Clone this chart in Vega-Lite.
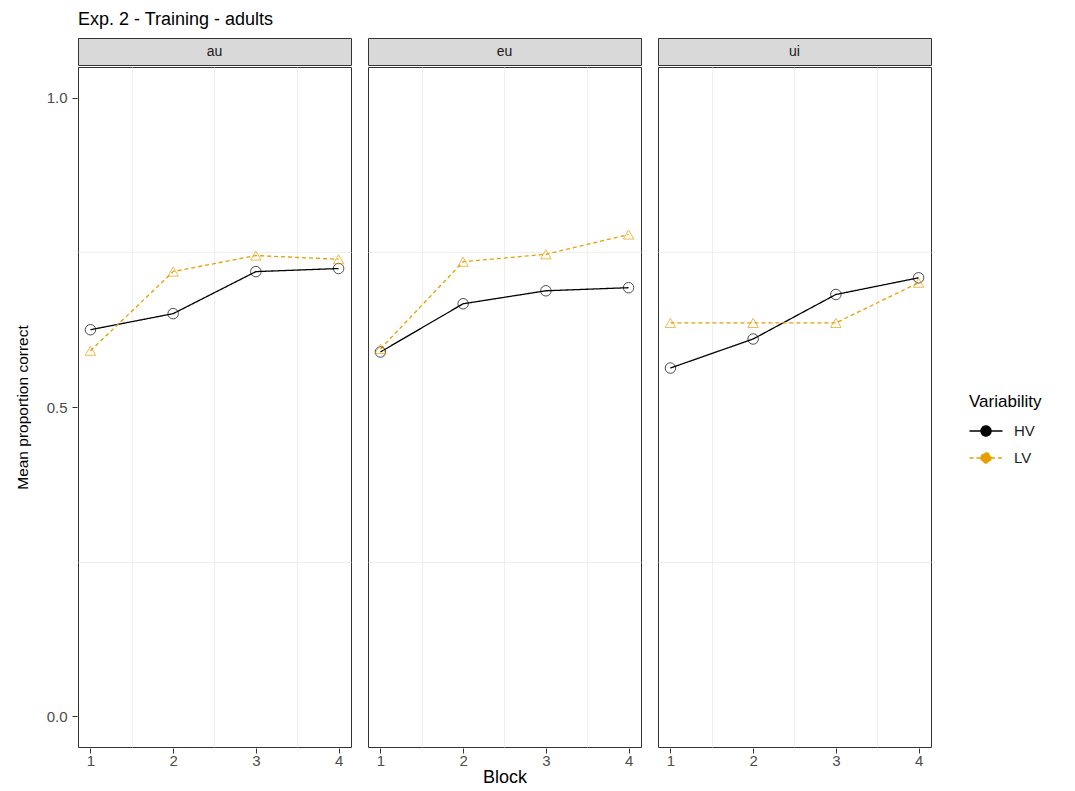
{
  "$schema": "https://vega.github.io/schema/vega-lite/v6.json",
  "padding": {"left": 15, "top": 10, "right": 5, "bottom": 0},
  "background": "white",
  "title": {"text": "Exp. 2 - Training - adults", "anchor": "start", "frame": "group", "fontSize": 18, "font": "Liberation Sans", "fontWeight": "normal", "color": "#000000", "offset": 9},
  "config": {
    "font": "Liberation Sans",
    "axis": {"labelColor": "#4D4D4D", "labelFontSize": 15, "tickColor": "#333333", "tickSize": 5, "domain": false, "titleFontWeight": "normal", "titleColor": "#000000", "gridColor": "#EBEBEB", "gridWidth": 0.8},
    "legend": {"titleFontWeight": "normal"}
  },
  "data": {"values": [
    {"Panel": "au", "Block": 1, "Variability": "HV", "Mean": 0.625},
    {"Panel": "au", "Block": 2, "Variability": "HV", "Mean": 0.651},
    {"Panel": "au", "Block": 3, "Variability": "HV", "Mean": 0.719},
    {"Panel": "au", "Block": 4, "Variability": "HV", "Mean": 0.724},
    {"Panel": "au", "Block": 1, "Variability": "LV", "Mean": 0.591},
    {"Panel": "au", "Block": 2, "Variability": "LV", "Mean": 0.719},
    {"Panel": "au", "Block": 3, "Variability": "LV", "Mean": 0.745},
    {"Panel": "au", "Block": 4, "Variability": "LV", "Mean": 0.739},
    {"Panel": "eu", "Block": 1, "Variability": "HV", "Mean": 0.589},
    {"Panel": "eu", "Block": 2, "Variability": "HV", "Mean": 0.667},
    {"Panel": "eu", "Block": 3, "Variability": "HV", "Mean": 0.688},
    {"Panel": "eu", "Block": 4, "Variability": "HV", "Mean": 0.693},
    {"Panel": "eu", "Block": 1, "Variability": "LV", "Mean": 0.594},
    {"Panel": "eu", "Block": 2, "Variability": "LV", "Mean": 0.735},
    {"Panel": "eu", "Block": 3, "Variability": "LV", "Mean": 0.747},
    {"Panel": "eu", "Block": 4, "Variability": "LV", "Mean": 0.779},
    {"Panel": "ui", "Block": 1, "Variability": "HV", "Mean": 0.563},
    {"Panel": "ui", "Block": 2, "Variability": "HV", "Mean": 0.610},
    {"Panel": "ui", "Block": 3, "Variability": "HV", "Mean": 0.682},
    {"Panel": "ui", "Block": 4, "Variability": "HV", "Mean": 0.709},
    {"Panel": "ui", "Block": 1, "Variability": "LV", "Mean": 0.636},
    {"Panel": "ui", "Block": 2, "Variability": "LV", "Mean": 0.636},
    {"Panel": "ui", "Block": 3, "Variability": "LV", "Mean": 0.636},
    {"Panel": "ui", "Block": 4, "Variability": "LV", "Mean": 0.701}
  ]},
  "spacing": 0,
  "vconcat": [
    {
      "transform": [{"filter": "datum.Block == 1 && datum.Variability == 'HV'"}],
      "facet": {"column": {"field": "Panel", "type": "nominal", "sort": ["au", "eu", "ui"], "header": {"title": null, "labels": false}}},
      "spacing": 15,
      "spec": {
        "width": 273,
        "height": 27,
        "view": {"fill": "#D9D9D9", "stroke": "#333333", "strokeWidth": 1},
        "mark": {"type": "text", "fontSize": 14, "color": "#1A1A1A", "font": "Liberation Sans"},
        "encoding": {"text": {"field": "Panel", "type": "nominal"}}
      }
    },
    {
      "facet": {"column": {"field": "Panel", "type": "nominal", "sort": ["au", "eu", "ui"],
                           "header": {"title": "Block", "titleOrient": "bottom", "titleFontSize": 18, "titleFontWeight": "normal", "titleColor": "#000000", "titlePadding": -9, "labels": false}}},
      "spacing": 15,
      "spec": {
        "width": 273,
        "height": 680,
        "view": {"stroke": "#333333", "strokeWidth": 1},
        "encoding": {
          "x": {"field": "Block", "type": "quantitative", "scale": {"domain": [0.85, 4.15], "nice": false, "zero": false},
                "axis": {"values": [1, 1.5, 2, 2.5, 3, 3.5, 4], "grid": true, "title": null, "labelPadding": 0,
                         "labelExpr": "datum.value % 1 == 0 ? format(datum.value, 'd') : ''",
                         "tickOpacity": {"condition": {"test": "datum.value % 1 == 0", "value": 1}, "value": 0},
                         "gridOpacity": {"condition": {"test": "datum.value % 1 == 0", "value": 0}, "value": 1}}},
          "y": {"field": "Mean", "type": "quantitative", "scale": {"domain": [-0.05, 1.05], "nice": false, "zero": false},
                "axis": {"values": [0, 0.25, 0.5, 0.75, 1], "grid": true, "title": "Mean proportion correct", "titleFontSize": 15.5, "titlePadding": 16, "labelPadding": 5,
                         "labelExpr": "datum.value == 0.25 || datum.value == 0.75 ? '' : format(datum.value, '.1f')",
                         "tickOpacity": {"condition": {"test": "datum.value == 0.25 || datum.value == 0.75", "value": 0}, "value": 1},
                         "gridOpacity": {"condition": {"test": "datum.value == 0.25 || datum.value == 0.75", "value": 1}, "value": 0}}},
          "color": {"field": "Variability", "type": "nominal", "scale": {"domain": ["HV", "LV"], "range": ["#000000", "#E69F00"]},
                    "legend": {"title": "Variability", "titleFontSize": 17, "labelFontSize": 15, "labelColor": "#1A1A1A", "titleColor": "#000000",
                               "symbolType": "M-1.5,0H-0.45M0.45,0H1.5M-0.45,0A0.45,0.45 0 1,1 0.45,0A0.45,0.45 0 1,1 -0.45,0Z",
                               "symbolSize": 484, "symbolStrokeWidth": 1.5, "rowPadding": 7, "titlePadding": 8, "labelOffset": 21,
                               "orient": "none", "legendX": 891, "legendY": 356,
                               "encode": {"symbols": {"update": {"fill": {"scale": "color", "field": "value"}, "x": {"value": 17}}}}}}
        },
        "layer": [
          {
            "mark": {"type": "line", "strokeWidth": 1.3},
            "encoding": {
              "strokeDash": {"field": "Variability", "type": "nominal", "scale": {"domain": ["HV", "LV"], "range": [[1, 0], [4, 3]]},
                             "legend": {"title": "Variability"}}
            }
          },
          {
            "transform": [{"filter": "datum.Variability == 'HV'"}],
            "mark": {"type": "point", "filled": false, "size": 110, "strokeWidth": 1, "shape": "circle"},
            "encoding": {}
          },
          {
            "transform": [{"filter": "datum.Variability == 'LV'"}],
            "mark": {"type": "point", "filled": false, "size": 110, "strokeWidth": 1, "shape": "triangle-up"},
            "encoding": {}
          }
        ]
      }
    }
  ]
}
